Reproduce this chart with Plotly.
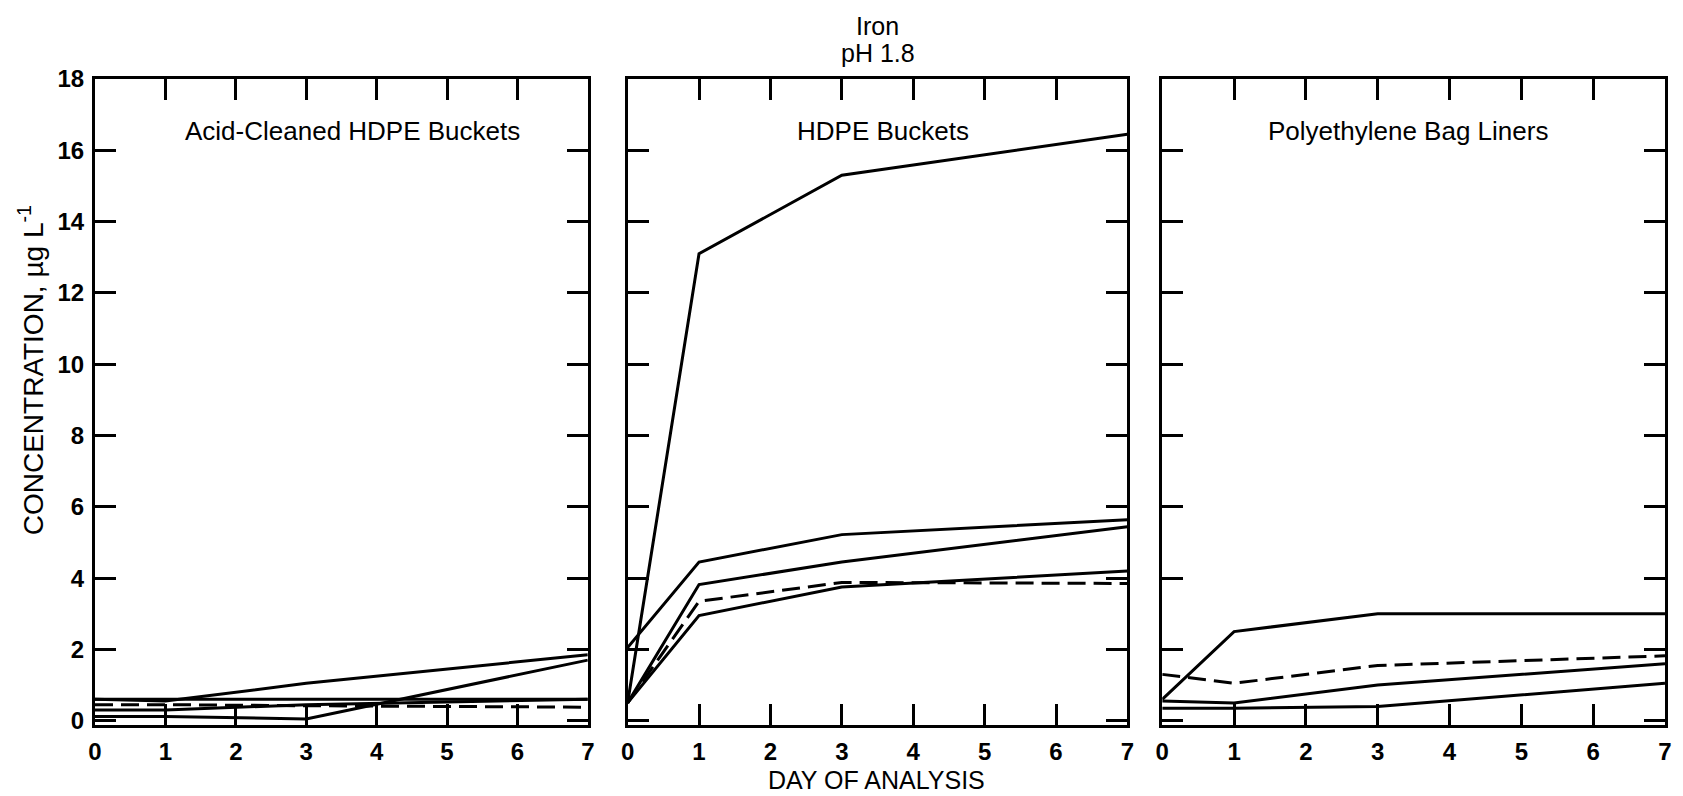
import plotly.graph_objects as go

# Sampling days and axis ticks
days = [0, 1, 3, 7]
day_ticks = [0, 1, 2, 3, 4, 5, 6, 7]
conc_ticks = [0, 2, 4, 6, 8, 10, 12, 14, 16, 18]

# Acid-cleaned HDPE buckets (µg/L)
acid_s1 = [0.6, 0.55, 1.05, 1.85]
acid_s2 = [0.12, 0.12, 0.05, 1.7]
acid_s3 = [0.6, 0.6, 0.6, 0.6]
acid_s4 = [0.3, 0.3, 0.45, 0.6]
acid_dash = [0.45, 0.45, 0.42, 0.38]

# HDPE buckets (µg/L)
hdpe_s1 = [0.5, 13.1, 15.3, 16.45]
hdpe_s2 = [2.05, 4.45, 5.22, 5.64]
hdpe_s3 = [0.5, 3.82, 4.45, 5.44]
hdpe_s4 = [0.5, 2.95, 3.75, 4.2]
hdpe_dash = [0.5, 3.35, 3.88, 3.85]

# Polyethylene bag liners (µg/L)
bag_s1 = [0.6, 2.5, 3.0, 3.0]
bag_s2 = [0.55, 0.5, 1.0, 1.6]
bag_s3 = [0.35, 0.35, 0.4, 1.05]
bag_dash = [1.3, 1.05, 1.55, 1.82]

panel_titles = ["Acid-Cleaned HDPE Buckets", "HDPE Buckets", "Polyethylene Bag Liners"]

FONT = "Liberation Sans, Arial, Helvetica, sans-serif"
W, H = 1683, 796
ML, MR, MT, MB = 95, 11, 79, 71
PW, PH = W - ML - MR, H - MT - MB


def px_x(px):
    return (px - ML) / PW


def px_y(py):
    return (H - MB - py) / PH


panels = [
    ("x", "y", [acid_s1, acid_s2, acid_s3, acid_s4], [acid_dash]),
    ("x2", "y2", [hdpe_s1, hdpe_s2, hdpe_s3, hdpe_s4], [hdpe_dash]),
    ("x3", "y3", [bag_s1, bag_s2, bag_s3], [bag_dash]),
]

fig = go.Figure()
for xa, ya, solids, dashes in panels:
    for vals in solids:
        fig.add_trace(go.Scatter(x=days, y=vals, xaxis=xa, yaxis=ya, mode="lines",
                                 line=dict(color="black", width=3), showlegend=False))
    for vals in dashes:
        fig.add_trace(go.Scatter(x=days, y=vals, xaxis=xa, yaxis=ya, mode="lines",
                                 line=dict(color="black", width=3, dash="18px,8px"),
                                 showlegend=False))

frame = dict(showline=True, linecolor="black", linewidth=3, mirror="allticks",
             ticks="inside", ticklen=21, tickwidth=3, tickcolor="black",
             showgrid=False, zeroline=False)
tickfont = dict(family=FONT, size=24, color="black", weight="bold")

domains = [
    [px_x(95), px_x(590)],
    [px_x(630), px_x(1132)],
    [px_x(1167), px_x(1672)],
]

layout = dict(
    width=W, height=H,
    margin=dict(l=ML, r=MR, t=MT, b=MB),
    paper_bgcolor="white", plot_bgcolor="white",
    showlegend=False,
    font=dict(family=FONT, color="black"),
)
for i, dom in enumerate(domains):
    sfx = "" if i == 0 else str(i + 1)
    layout["xaxis" + sfx] = dict(frame, domain=dom, range=[0, 7], tickvals=day_ticks,
                                 tickfont=tickfont, anchor="y" + sfx, ticklabelstandoff=3)
    layout["yaxis" + sfx] = dict(frame, domain=[0, 1], range=[-0.12, 18], tickvals=conc_ticks,
                                 tickfont=tickfont, anchor="x" + sfx,
                                 showticklabels=(i == 0), ticklabelstandoff=3)
fig.update_layout(**layout)


def label(text, x, y, size, angle=0, yanchor="middle"):
    fig.add_annotation(text=text, x=px_x(x), y=px_y(y), xref="paper", yref="paper",
                       showarrow=False, xanchor="center", yanchor=yanchor,
                       textangle=angle, font=dict(family=FONT, size=size, color="black"))


label("Iron", 881, 26, 25)
label("pH 1.8", 881, 53, 25)
label(panel_titles[0], 354, 131, 26)
label(panel_titles[1], 887, 131, 26)
label(panel_titles[2], 1414, 131, 26)
label("DAY OF ANALYSIS", 880, 796, 25, yanchor="bottom")
label("CONCENTRATION, µg L<sup>-1</sup>", 31, 370, 28, angle=-90)

fig.write_html("out.html")
